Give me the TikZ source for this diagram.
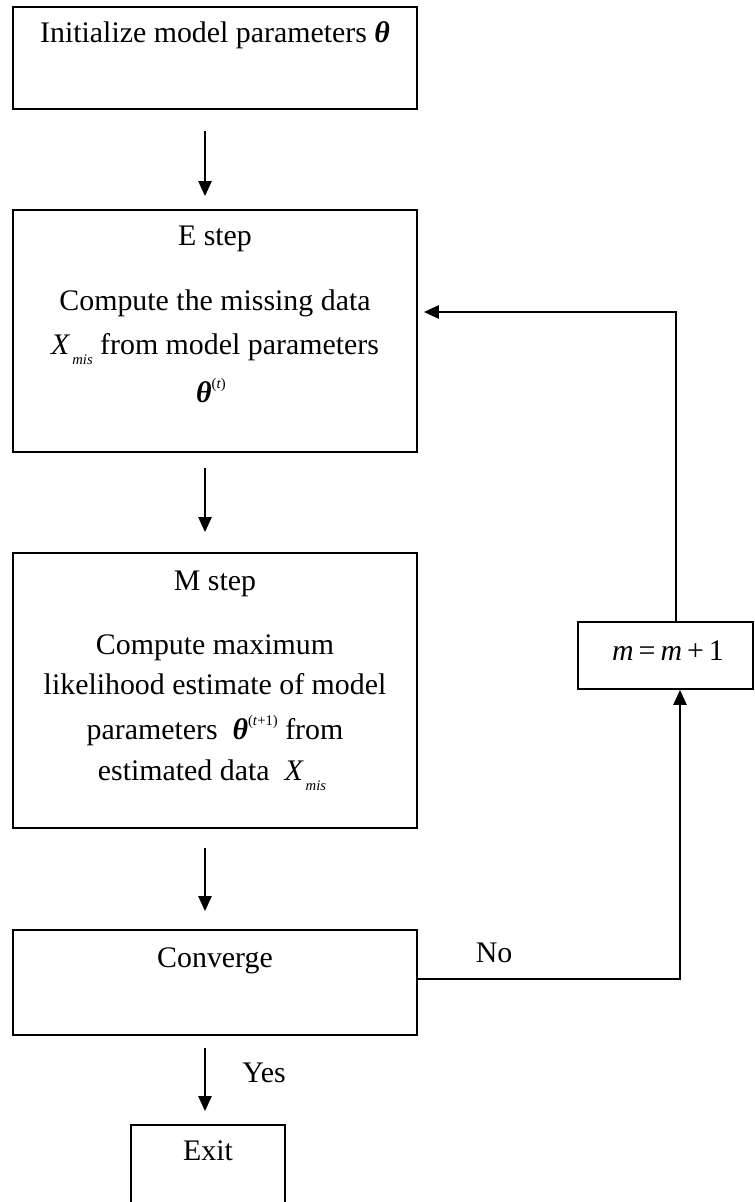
\documentclass[tikz,border=0pt]{standalone}
\usepackage{fontspec}
\setmainfont{Liberation Serif}
\usetikzlibrary{arrows.meta}

\newcommand{\thet}{\textbf{\textit{θ}}}
\newcommand{\Xmis}{\textit{X}\kern1.5pt\raisebox{-0.75ex}[0pt][0pt]{\fontsize{11}{11}\selectfont\textit{mis}}}
\newcommand{\thetsup}[1]{\textbf{\textit{θ}}\raisebox{1ex}[0pt][0pt]{\fontsize{11}{11}\selectfont(#1)}}

\begin{document}
\begin{tikzpicture}[x=0.75pt,y=0.75pt,yscale=-1,
  box/.style={draw, line width=1.4pt, inner sep=0pt},
  txt/.style={inner sep=0pt, font=\fontsize{22.4}{27}\selectfont, text height=15.5pt, text depth=4.5pt},
  arr/.style={line width=1.1pt, -{Triangle[length=11.25pt,width=10pt]}}]
\useasboundingbox (0,0) rectangle (754,1202);

% Boxes
\node[box, minimum width=303pt, minimum height=76.5pt] (init) at (215,58) {};
\node[box, minimum width=303pt, minimum height=181.5pt] (estep) at (215,331) {};
\node[box, minimum width=303pt, minimum height=206.25pt] (mstep) at (215,690.5) {};
\node[box, minimum width=303pt, minimum height=78.75pt] (conv) at (215,982.5) {};
\node[box, minimum width=115.5pt, minimum height=60.75pt] (exit) at (208,1165.5) {};
\node[box, minimum width=131.25pt, minimum height=50.25pt] (incr) at (665.5,655.5) {};

% Text Node
\node[txt] (tinit) at (215,35) {Initialize model parameters \thet};
% Text Node
\node[txt] (te1) at (215,238) {E step};
\node[txt] (te2) at (215,303) {Compute the missing data};
\node[txt] (te3) at (215,347) {\Xmis\ from model parameters};
\node[txt] (te4) at (211,395) {\thetsup{\textit{t}}};
% Text Node
\node[txt] (tm1) at (215,583) {M step};
\node[txt] (tm2) at (215,647) {Compute maximum};
\node[txt] (tm3) at (215,687) {likelihood estimate of model};
\node[txt] (tm4) at (215,732) {parameters\ \ \thetsup{\textit{t}+1} from};
\node[txt] (tm5) at (212,773) {estimated data\ \ \Xmis};
% Text Node
\node[txt] (tconv) at (215,960) {Converge};
\node[txt] (texit) at (208,1153) {Exit};
\node[txt] (tno) at (494,955) {No};
\node[txt] (tyes) at (264,1075) {Yes};
\node[txt] (tincr) at (668,653) {\textit{m}\,=\,\textit{m}\,+\,1};

% Arrows
\coordinate (col) at (205,0);
\coordinate (up) at (680,0);
\coordinate (back) at (676,312);
\draw[arr, shorten <=15.75pt, shorten >=9.75pt] (col |- init.south) -- (col |- estep.north);
\draw[arr, shorten <=11.25pt, shorten >=15pt] (col |- estep.south) -- (col |- mstep.north);
\draw[arr, shorten <=14.25pt, shorten >=13.5pt] (col |- mstep.south) -- (col |- conv.north);
\draw[arr, shorten <=9pt, shorten >=9.75pt] (col |- conv.south) -- (col |- exit.north);
\draw[arr] ([yshift=-2.6pt]conv.east) -| (up |- incr.south);
\draw[arr, shorten >=4.5pt] (back |- incr.north) -- (back) -- (estep.east |- back);

\end{tikzpicture}
\end{document}
